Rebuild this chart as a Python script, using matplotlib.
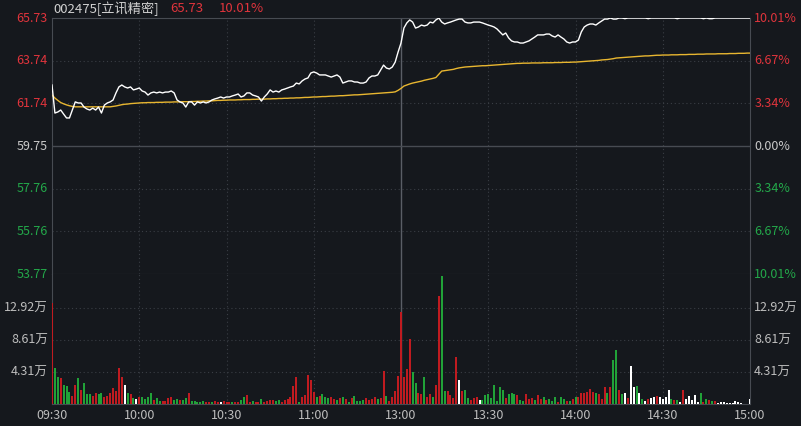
import matplotlib
matplotlib.use("Agg")
import matplotlib.pyplot as plt
import matplotlib.transforms as mtransforms
import numpy as np

plt.rcParams['font.family'] = ['Noto Sans CJK SC', 'DejaVu Sans']

# ---- data ----
stock_name = "002475[立讯精密]"
last_price = "65.73"
last_pct = "10.01%"
prev_close = 59.75

price = [
    62.60, 61.29, 61.34, 61.43, 61.24, 61.06, 61.06, 61.43, 61.81, 61.76,
    61.76, 61.57, 61.48, 61.43, 61.52, 61.43, 61.57, 61.29, 61.66, 61.76,
    61.81, 61.90, 62.23, 62.51, 62.60, 62.51, 62.46, 62.51, 62.37, 62.41,
    62.46, 62.32, 62.27, 62.13, 62.23, 62.27, 62.23, 62.27, 62.23, 62.27,
    62.27, 62.32, 62.23, 61.90, 61.81, 61.76, 61.57, 61.81, 61.81, 61.66,
    61.81, 61.76, 61.81, 61.76, 61.81, 61.90, 61.95, 61.99, 62.04, 61.99,
    62.04, 62.04, 62.09, 62.13, 62.18, 62.04, 62.09, 62.23, 62.23, 62.13,
    62.09, 62.04, 61.85, 62.04, 62.18, 62.37, 62.27, 62.32, 62.27, 62.37,
    62.41, 62.46, 62.51, 62.55, 62.69, 62.65, 62.79, 62.88, 62.93, 63.16,
    63.21, 63.16, 63.07, 63.07, 63.07, 63.02, 62.97, 63.02, 63.07, 62.97,
    62.69, 62.74, 62.79, 62.79, 62.74, 62.74, 62.69, 62.69, 62.74, 62.93,
    63.02, 63.02, 63.07, 63.30, 63.53, 63.39, 63.35, 63.44, 63.67, 64.14,
    64.56,
    65.26, 65.50, 65.64, 65.54, 65.26, 65.31, 65.40, 65.36, 65.40, 65.54,
    65.50, 65.64, 65.73, 65.54, 65.45, 65.50, 65.54, 65.59, 65.64, 65.68,
    65.68, 65.54, 65.50, 65.50, 65.54, 65.54, 65.54, 65.50, 65.45, 65.40,
    65.36, 65.31, 65.22, 65.08, 64.94, 65.03, 64.80, 64.66, 64.61, 64.61,
    64.56, 64.56, 64.61, 64.66, 64.75, 64.84, 64.94, 64.94, 64.94, 64.98,
    64.98, 64.89, 64.84, 64.94, 64.84, 64.75, 64.61, 64.56, 64.61, 64.61,
    64.70, 65.08, 65.31, 65.40, 65.45, 65.45, 65.40, 65.50, 65.59, 65.68,
    65.68, 65.73, 65.68, 65.68, 65.73, 65.73, 65.70, 65.73, 65.73, 65.73,
    65.73, 65.73, 65.73, 65.73, 65.70, 65.73, 65.73, 65.73, 65.73, 65.73,
    65.73, 65.73, 65.73, 65.73, 65.70, 65.73, 65.73, 65.73, 65.73, 65.73,
    65.73, 65.73, 65.73, 65.70, 65.73, 65.70, 65.70, 65.73, 65.73, 65.73,
    65.73, 65.73, 65.73, 65.73, 65.73, 65.73, 65.73, 65.73, 65.73, 65.73,
]

avg_price = [
    62.13, 61.99, 61.88, 61.78, 61.72, 61.67, 61.63, 61.60, 61.58, 61.58,
    61.58, 61.58, 61.58, 61.58, 61.58, 61.58, 61.58, 61.58, 61.58, 61.58,
    61.58,
    61.60, 61.62, 61.65, 61.68, 61.70, 61.71, 61.73, 61.74, 61.75, 61.76,
    61.77, 61.77, 61.78, 61.78, 61.78, 61.79, 61.79, 61.79, 61.80, 61.80,
    61.80, 61.81, 61.81, 61.81, 61.82, 61.82, 61.82, 61.83, 61.83, 61.84,
    61.84, 61.85, 61.85, 61.86, 61.86, 61.87, 61.88, 61.88, 61.89, 61.89,
    61.90, 61.90, 61.90, 61.91, 61.91, 61.92, 61.92, 61.92, 61.93, 61.93,
    61.94, 61.94, 61.94, 61.95, 61.95, 61.96, 61.96, 61.97, 61.97, 61.98,
    61.98, 61.99, 61.99, 62.00, 62.00, 62.01, 62.02, 62.02, 62.03, 62.04,
    62.04, 62.05, 62.06, 62.06, 62.07, 62.08, 62.08, 62.09, 62.10, 62.10,
    62.11, 62.12, 62.13, 62.14, 62.14, 62.15, 62.16, 62.17, 62.18, 62.19,
    62.20, 62.21, 62.22, 62.23, 62.24, 62.25, 62.26, 62.28, 62.35, 62.44,
    62.55, 62.60, 62.65, 62.69, 62.72, 62.75, 62.78, 62.82, 62.85, 62.88,
    62.91, 62.95, 63.10, 63.25,
    63.27, 63.29, 63.31, 63.33, 63.37, 63.40, 63.42, 63.44, 63.45, 63.46,
    63.47, 63.48, 63.49, 63.50, 63.50, 63.51, 63.52, 63.53, 63.54, 63.55,
    63.56, 63.57, 63.58, 63.59, 63.60, 63.61,
    63.61, 63.62, 63.62, 63.62, 63.63, 63.63, 63.63, 63.63, 63.64, 63.64,
    63.64, 63.64, 63.65, 63.65, 63.65, 63.66, 63.66, 63.66, 63.67, 63.67,
    63.68, 63.69, 63.70, 63.71, 63.72, 63.73, 63.74, 63.75, 63.77, 63.78,
    63.79, 63.81, 63.83, 63.86,
    63.87, 63.88, 63.89, 63.90, 63.91, 63.92, 63.93, 63.94, 63.95, 63.96,
    63.96, 63.97, 63.98, 63.99, 63.99, 64.00,
    64.00, 64.00, 64.01, 64.01, 64.01, 64.02, 64.02, 64.02, 64.03, 64.03,
    64.03, 64.04, 64.04, 64.04, 64.05, 64.05, 64.05, 64.05, 64.06, 64.06,
    64.06, 64.06, 64.07, 64.07, 64.07, 64.08, 64.08, 64.08, 64.09, 64.09,
]

# volume in 万 (10k shares) per minute
volume = [
    13.56, 4.80, 3.59, 3.46, 2.56, 2.42, 1.66, 1.08, 2.56, 3.55,
    1.89, 2.78, 1.35, 1.30, 1.12, 1.44, 1.30, 1.44, 0.90, 1.12,
    1.53, 2.20, 1.80, 4.85, 3.59, 2.56, 1.53, 1.35, 0.85, 0.63,
    0.90, 0.99, 0.63, 0.90, 1.53, 0.54, 0.85, 0.45, 0.40, 0.45,
    0.81, 0.94, 0.54, 0.67, 0.54, 0.54, 0.81, 1.53, 0.40, 0.40,
    0.27, 0.27, 0.40, 0.31, 0.22, 0.22, 0.40, 0.31, 0.27, 0.45,
    0.31, 0.27, 0.22, 0.27, 0.31, 0.54, 0.90, 1.21, 0.31, 0.45,
    0.22, 0.31, 0.63, 0.31, 0.40, 0.54, 0.54, 0.45, 0.54, 0.31,
    0.54, 0.63, 0.90, 2.42, 3.68, 0.31, 0.90, 1.21, 3.91, 3.23,
    1.66, 0.99, 1.08, 1.35, 0.90, 0.76, 0.90, 0.63, 0.54, 0.76,
    0.90, 0.63, 0.31, 0.76, 1.08, 0.45, 0.40, 0.54, 0.76, 0.54,
    0.67, 0.99, 0.72, 0.76, 4.49, 1.08, 0.45, 0.99, 1.80, 3.82,
    12.44, 3.59, 4.71, 8.76, 4.27, 2.87, 1.53, 1.35, 3.59, 0.90,
    1.35, 0.99, 2.56, 14.59, 17.29, 1.80, 1.80, 1.21, 0.76, 6.38,
    3.23, 1.80, 1.89, 0.76, 0.54, 0.76, 0.90, 0.54, 0.54, 1.21,
    1.35, 0.85, 2.56, 0.45, 2.33, 1.89, 0.76, 1.35, 1.44, 1.35,
    1.21, 0.54, 0.45, 1.35, 0.63, 0.76, 0.54, 1.21, 0.63, 0.90,
    0.54, 0.63, 0.45, 0.99, 0.31, 0.99, 0.63, 0.45, 0.45, 0.63,
    0.90,
    0.99, 1.53, 1.53, 1.66, 1.98, 1.66, 1.53, 1.35, 0.63, 2.24,
    1.53, 2.24, 5.93, 7.27, 1.89, 1.35, 1.53, 0.76, 5.16, 2.33,
    2.42, 1.44, 0.63, 0.45, 0.67, 0.76, 0.99, 1.08, 0.99, 0.67,
    0.99, 1.89, 0.67, 0.54, 0.54, 0.31, 1.89, 0.63, 1.08, 0.54,
    1.21, 0.31, 1.44, 0.31, 0.67, 0.54, 0.45, 0.45, 0.18, 0.31,
    0.31, 0.18, 0.18, 0.18, 0.40, 0.31, 0.18, 0.05, 0.05, 0.67,
]

# bar direction: r = up, g = down, w = flat
volume_dir = (
    "rggrgggrrg" "rgggrrggrr" "rrrrrwgrgw" "rggggrggrr" "rrggrggrgg" "gggrrgrrwr"
    "rrgrrggrrg" "rrgrrrrggr" "rrrrrgrrrr" "rgrgggrrgr" "grgrggggrr" "rrgrrgrrrr"
    "rrrrggrrgr" "rgrrggrrrr" "wrggrrrwgg" "ggggggrggg" "rggrrrgrrg" "rgggrggrgr"
    "g"
    "rrrrrrgrrr" "grggrgwrww" "gwgwrwwrww" "wwgrgwrwww" "wwgrgrgrww" "wwwwwwwwww"
)

time_labels = ["09:30", "10:00", "10:30", "11:00", "13:00", "13:30", "14:00", "14:30", "15:00"]
time_ticks = [0, 30, 60, 90, 120, 150, 180, 210, 240]

price_levels = [65.73, 63.74, 61.74, 59.75, 57.76, 55.76, 53.77]
pct_labels = ["10.01%", "6.67%", "3.34%", "0.00%", "3.34%", "6.67%", "10.01%"]
vol_levels = [12.92, 8.61, 4.31]
vol_labels = ["12.92万", "8.61万", "4.31万"]

# ---- styling ----
bg = '#15181d'
grid_c = '#3a3e45'
frame_c = '#474b52'
up_c = '#e0343c'
down_c = '#23a84a'
flat_c = '#c9c9c9'
bar_c = {'r': '#c01b20', 'g': '#21a238', 'w': '#ffffff'}

W, H = 801, 426
fig = plt.figure(figsize=(W / 100, H / 100), dpi=100, facecolor=bg)

left, right = 52, 750
ax_p = fig.add_axes([left / W, 1 - 274 / H, (right - left) / W, (274 - 18) / H], facecolor=bg)
ax_v = fig.add_axes([left / W, 1 - 404 / H, (right - left) / W, (404 - 274) / H], facecolor=bg)

minutes = np.arange(len(price))

for ax in (ax_p, ax_v):
    ax.set_xlim(0, 240)
    ax.set_xticks([])
    ax.set_yticks([])
    for s in ax.spines.values():
        s.set_color(frame_c)
        s.set_linewidth(0.8)
    for t in time_ticks[1:-1]:
        if t == 120:
            ax.axvline(t, color='#5a5e66', lw=1.0, zorder=1)
        else:
            ax.axvline(t, color=grid_c, lw=0.8, ls=(0, (1, 2.5)), zorder=1)

ax_v.spines['top'].set_visible(False)

# price panel
ax_p.set_ylim(price_levels[-1], price_levels[0])
for lv in price_levels[1:-1]:
    if lv == prev_close:
        ax_p.axhline(lv, color=frame_c, lw=1.0, zorder=1)
    else:
        ax_p.axhline(lv, color=grid_c, lw=0.8, ls=(0, (1, 2.5)), zorder=1)

ax_p.plot(minutes, avg_price, color='#e8b630', lw=1.0, zorder=3)
ax_p.plot(minutes, price, color='#ffffff', lw=1.0, zorder=4)

tr_l = mtransforms.blended_transform_factory(ax_p.transAxes, ax_p.transData)
for i, (lv, pl) in enumerate(zip(price_levels, pct_labels)):
    c = up_c if i < 3 else (flat_c if i == 3 else down_c)
    ax_p.text(-0.006, lv, f"{lv:.2f}", transform=tr_l, ha='right', va='center',
              color=c, fontsize=9)
    ax_p.text(1.006, lv, pl, transform=tr_l, ha='left', va='center',
              color=c, fontsize=9)

# volume panel
ax_v.set_ylim(0, 17.5)
for lv in vol_levels:
    ax_v.axhline(lv, color=grid_c, lw=0.8, ls=(0, (1, 2.5)), zorder=1)
ax_v.vlines(minutes, 0, volume, colors=[bar_c[c] for c in volume_dir],
            linewidth=1.1, antialiased=False, zorder=3)

tr_v = mtransforms.blended_transform_factory(ax_v.transAxes, ax_v.transData)
for lv, lb in zip(vol_levels, vol_labels):
    ax_v.text(-0.006, lv, lb, transform=tr_v, ha='right', va='center',
              color='#bdbdbd', fontsize=9)
    ax_v.text(1.006, lv, lb, transform=tr_v, ha='left', va='center',
              color='#bdbdbd', fontsize=9)

tr_x = mtransforms.blended_transform_factory(ax_v.transData, ax_v.transAxes)
for t, lb in zip(time_ticks, time_labels):
    ax_v.text(t, -0.085, lb, transform=tr_x, ha='center', va='center',
              color='#bdbdbd', fontsize=9)

# header
fig.text(53 / W, 1 - 9 / H, stock_name, color='#d0d0d0', fontsize=9.5, va='center', ha='left')
fig.text(170 / W, 1 - 9 / H, last_price, color=up_c, fontsize=9.5, va='center', ha='left')
fig.text(219 / W, 1 - 9 / H, last_pct, color=up_c, fontsize=9.5, va='center', ha='left')

fig.savefig('out.png', dpi=100, facecolor=bg)
